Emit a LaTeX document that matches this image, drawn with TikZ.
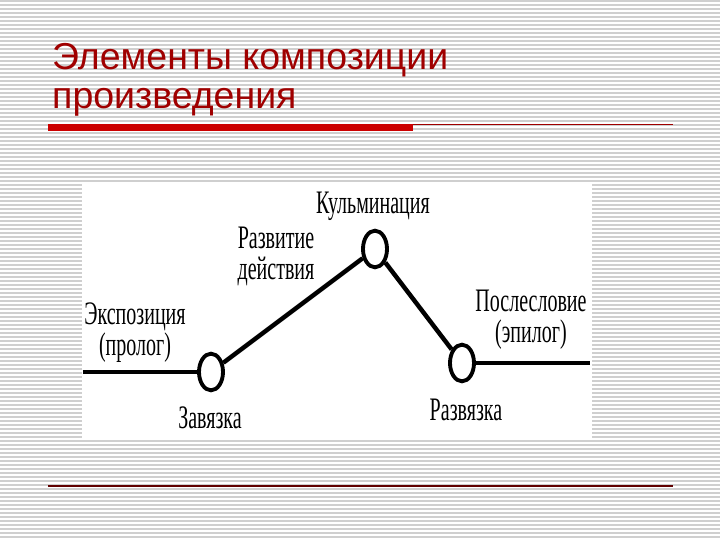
\documentclass[tikz,border=0pt]{standalone}
\usepackage{fontspec}
\setmainfont{Liberation Sans}
\newfontfamily\plotfont[FakeStretch=0.61]{Liberation Serif}
\usetikzlibrary{shapes.geometric}
\definecolor{titlered}{HTML}{A00000}
\definecolor{barred}{HTML}{CC0000}
\definecolor{stripe}{HTML}{CFCFCF}
\tikzstyle{event} = [ellipse, 
draw=black, 
line width=3.3pt, 
fill=white, 
minimum width=0.72cm, 
minimum height=1.1cm, 
inner sep=0pt]
\tikzstyle{caption} = [anchor=north, 
align=center, 
inner sep=0pt, 
font=\plotfont\fontsize{28}{26}\selectfont]
\tikzstyle{plot} = [line width=3.8pt, black]

\begin{document}
\begin{tikzpicture}[x=0.03cm, y=-0.03cm]
  \useasboundingbox (0,0) rectangle (720,540);
  \fill[white] (0,0) rectangle (720,540);
  \foreach \y in {1,5,...,537}
    \draw[stripe, line width=0.9pt] (0,\y) -- (720,\y);

  \node (title) [anchor=north west, align=left, inner sep=0pt, text=titlered,
    font=\fontsize{32}{33}\selectfont] at (52,43) {Элементы композиции\\произведения};
  \fill[barred] (48,124) rectangle (413,131);
  \draw[titlered, line width=0.9pt] (413,124.5) -- (673,124.5);
  \draw[titlered!60!black, line width=1.6pt] (48,486) -- (673,486);

  \fill[white] (82,182) rectangle (592,438);

  \node (zav) [event] at (211,372) {};
  \node (kul) [event] at (375,249) {};
  \node (razv) [event] at (462,363) {};
  \coordinate (lstart) at (83,372);
  \coordinate (rend) at (590,363);

  \draw [plot] (lstart) -- (zav);
  \draw [plot] (zav) -- (kul);
  \draw [plot] (kul) -- (razv);
  \draw [plot] (razv) -- (rend);

  \node (expo) [caption] at (135,303) {Экспозиция\\(пролог)};
  \node (zavtext) [caption] at (210,407) {Завязка};
  \node (devel) [caption] at (276,227) {Развитие\\действия};
  \node (kultext) [caption] at (373,192) {Кульминация};
  \node (epil) [caption] at (531,290) {Послесловие\\(эпилог)};
  \node (razvtext) [caption] at (466,399) {Развязка};
\end{tikzpicture}
\end{document}
